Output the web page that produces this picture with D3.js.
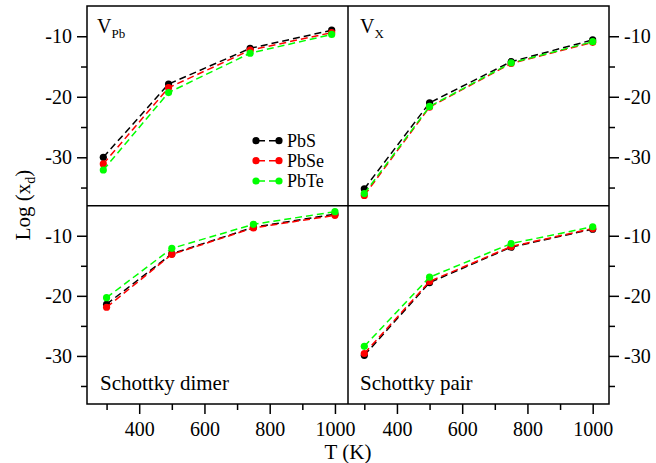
<!DOCTYPE html>
<html>
<head>
<meta charset="utf-8">
<script src="https://cdn.jsdelivr.net/npm/d3@7"></script>
<style>
  body { margin: 0; background: #fff; }
  svg text { font-family: "Liberation Serif", "DejaVu Serif", serif; fill: #000; }
</style>
</head>
<body>
<div id="chart"></div>
<script>
// temperatures (K) at which each defect concentration was computed
const temps = [300, 500, 750, 1000];
const materials = ["PbS", "PbSe", "PbTe"];
const colors = ["#000000", "#ff0000", "#00ff00"];

// log(x_d) values
const vPbPbS = [-30.0, -17.9, -12.0, -9.0];
const vPbPbSe = [-31.1, -18.5, -12.3, -9.4];
const vPbPbTe = [-32.1, -19.3, -12.8, -9.7];

const vXPbS = [-35.2, -21.0, -14.2, -10.6];
const vXPbSe = [-36.3, -21.7, -14.5, -11.0];
const vXPbTe = [-36.0, -21.6, -14.4, -10.9];

const dimerPbS = [-21.4, -13.0, -8.6, -6.4];
const dimerPbSe = [-21.9, -13.1, -8.7, -6.6];
const dimerPbTe = [-20.3, -12.1, -8.1, -6.0];

const pairPbS = [-29.9, -17.8, -11.9, -8.9];
const pairPbSe = [-29.6, -17.6, -11.8, -8.8];
const pairPbTe = [-28.4, -16.9, -11.3, -8.5];

const yTicks = [-10, -20, -30];
const yMinor = [-15, -25, -35];
const xTicks = [400, 600, 800, 1000];
const xMinor = [300, 500, 700, 900];

const W = 656, H = 463;
const fLeft = 87, fMid = 348, fRight = 609;
const fTop = 6, fHmid = 205.7, fBottom = 404;

const svg = d3.select("#chart").append("svg")
    .attr("width", W)
    .attr("height", H);

const panels = [
  {name: "vpb", x0: fLeft, x1: fMid, y0: fTop, y1: fHmid, xdom: [250, 1050], series: [vPbPbS, vPbPbSe, vPbPbTe], yAxis: "left"},
  {name: "vx", x0: fMid, x1: fRight, y0: fTop, y1: fHmid, xdom: [250, 1050], series: [vXPbS, vXPbSe, vXPbTe], yAxis: "right"},
  {name: "dimer", x0: fLeft, x1: fMid, y0: fHmid, y1: fBottom, xdom: [240, 1040], series: [dimerPbS, dimerPbSe, dimerPbTe], yAxis: "left", xAxis: true},
  {name: "pair", x0: fMid, x1: fRight, y0: fHmid, y1: fBottom, xdom: [250, 1050], series: [pairPbS, pairPbSe, pairPbTe], yAxis: "right", xAxis: true}
];

function styleAxis(g, size) {
  g.select(".domain").remove();
  g.selectAll("line").attr("stroke", "#000").attr("stroke-width", 1.5);
  g.selectAll("text").attr("font-size", size).attr("font-family", null);
}

panels.forEach(p => {
  p.x = d3.scaleLinear().domain(p.xdom).range([p.x0, p.x1]);
  p.y = d3.scaleLinear().domain([-38, -5]).range([p.y1, p.y0]);

  if (p.yAxis === "left") {
    const ax = d3.axisLeft(p.y).tickValues(yTicks).tickSize(10).tickPadding(5).tickFormat(d => String(d));
    svg.append("g").attr("transform", `translate(${p.x0},0)`).call(ax).call(g => styleAxis(g, 20));
    const mn = d3.axisLeft(p.y).tickValues(yMinor).tickSize(6).tickFormat("");
    svg.append("g").attr("transform", `translate(${p.x0},0)`).call(mn).call(g => styleAxis(g, 20));
  } else {
    const ax = d3.axisRight(p.y).tickValues(yTicks).tickSize(10).tickPadding(5).tickFormat(d => String(d));
    svg.append("g").attr("transform", `translate(${p.x1},0)`).call(ax).call(g => styleAxis(g, 20));
    const mn = d3.axisRight(p.y).tickValues(yMinor).tickSize(6).tickFormat("");
    svg.append("g").attr("transform", `translate(${p.x1},0)`).call(mn).call(g => styleAxis(g, 20));
  }

  if (p.xAxis) {
    const ax = d3.axisBottom(p.x).tickValues(xTicks).tickSize(10).tickPadding(8).tickFormat(d => String(d));
    svg.append("g").attr("transform", `translate(0,${p.y1})`).call(ax).call(g => styleAxis(g, 20));
    const mn = d3.axisBottom(p.x).tickValues(xMinor).tickSize(6).tickFormat("");
    svg.append("g").attr("transform", `translate(0,${p.y1})`).call(mn).call(g => styleAxis(g, 20));
  }

  const line = d3.line().x((d, i) => p.x(temps[i])).y(d => p.y(d));
  const g = svg.append("g").attr("class", p.name);
  p.series.forEach((vals, k) => {
    g.append("path")
        .attr("d", line(vals))
        .attr("fill", "none")
        .attr("stroke", colors[k])
        .attr("stroke-width", 1.5)
        .attr("stroke-dasharray", "7,4");
    g.selectAll(null)
      .data(vals)
      .join("circle")
        .attr("cx", (d, i) => p.x(temps[i]))
        .attr("cy", d => p.y(d))
        .attr("r", 3.6)
        .attr("fill", colors[k]);
  });
});

// frame
svg.append("rect")
    .attr("x", fLeft).attr("y", fTop)
    .attr("width", fRight - fLeft).attr("height", fBottom - fTop)
    .attr("fill", "none").attr("stroke", "#000").attr("stroke-width", 1.5);
svg.append("line")
    .attr("x1", fMid).attr("x2", fMid).attr("y1", fTop).attr("y2", fBottom)
    .attr("stroke", "#000").attr("stroke-width", 1.5);
svg.append("line")
    .attr("x1", fLeft).attr("x2", fRight).attr("y1", fHmid).attr("y2", fHmid)
    .attr("stroke", "#000").attr("stroke-width", 1.5);

// panel labels
const vpb = svg.append("text").attr("x", 97).attr("y", 33).attr("font-size", 20);
vpb.append("tspan").text("V");
vpb.append("tspan").attr("dy", 5).attr("font-size", 13).text("Pb");

const vx = svg.append("text").attr("x", 360).attr("y", 33).attr("font-size", 20);
vx.append("tspan").text("V");
vx.append("tspan").attr("dy", 5).attr("font-size", 13).text("X");

svg.append("text").attr("x", 100).attr("y", 390).attr("font-size", 21).text("Schottky dimer");
svg.append("text").attr("x", 360).attr("y", 390).attr("font-size", 21).text("Schottky pair");

// legend
const legendY = [140.7, 160.7, 181];
materials.forEach((m, k) => {
  const lg = svg.append("g").attr("transform", `translate(0,${legendY[k]})`);
  lg.append("line")
      .attr("x1", 256).attr("x2", 279).attr("y1", 0).attr("y2", 0)
      .attr("stroke", colors[k]).attr("stroke-width", 1.5)
      .attr("stroke-dasharray", "9,4");
  lg.selectAll("circle")
    .data([256, 279])
    .join("circle")
      .attr("cx", d => d).attr("cy", 0).attr("r", 3.6)
      .attr("fill", colors[k]);
  lg.append("text").attr("x", 287).attr("y", 0).attr("dy", "0.35em")
      .attr("font-size", 18).text(m);
});

// axis titles
svg.append("text")
    .attr("x", fMid).attr("y", 459)
    .attr("text-anchor", "middle").attr("font-size", 21)
    .text("T (K)");

const yl = svg.append("text")
    .attr("transform", `translate(30,${(fTop + fBottom) / 2}) rotate(-90)`)
    .attr("text-anchor", "middle").attr("font-size", 21);
yl.append("tspan").text("Log (x");
yl.append("tspan").attr("dy", 5).attr("font-size", 14).text("d");
yl.append("tspan").attr("dy", -5).text(")");
</script>
</body>
</html>
